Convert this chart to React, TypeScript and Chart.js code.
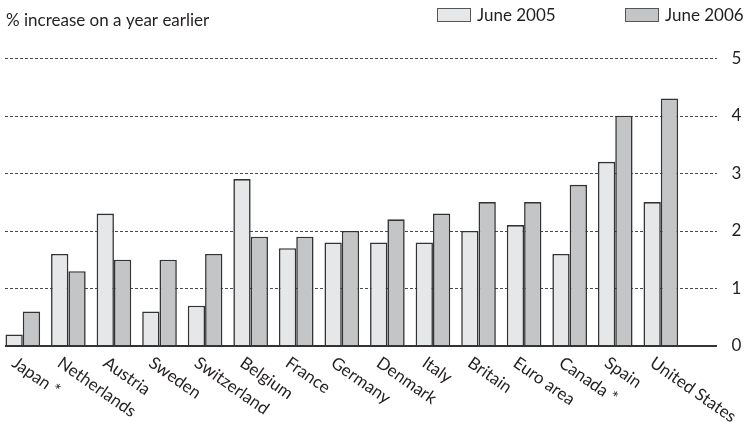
import React, { useEffect, useRef } from "react";
import { Chart, registerables } from "chart.js";

Chart.register(...registerables);

const categories = [
  "Japan *",
  "Netherlands",
  "Austria",
  "Sweden",
  "Switzerland",
  "Belgium",
  "France",
  "Germany",
  "Denmark",
  "Italy",
  "Britain",
  "Euro area",
  "Canada *",
  "Spain",
  "United States",
];
const june2005 = [0.2, 1.6, 2.3, 0.6, 0.7, 2.9, 1.7, 1.8, 1.8, 1.8, 2.0, 2.1, 1.6, 3.2, 2.5];
const june2006 = [0.6, 1.3, 1.5, 1.5, 1.6, 1.9, 1.9, 2.0, 2.2, 2.3, 2.5, 2.5, 2.8, 4.0, 4.3];
const yTicks = [0, 1, 2, 3, 4, 5];
const seriesLabels = ["June 2005", "June 2006"];
const titleText = "% increase on a year earlier";

const FONT = "Lato, 'Open Sans', sans-serif";
const TEXT_COLOR = "#231f20";
const COLOR_2005 = "#e6e7e8";
const COLOR_2006 = "#c4c5c7";
const BORDER = "#333333";

const decor = {
  id: "decor",
  beforeDatasetsDraw(chart: any) {
    const { ctx } = chart;
    const y = chart.scales.y;
    ctx.save();
    ctx.strokeStyle = "#4a4a4a";
    ctx.lineWidth = 1;
    ctx.setLineDash([3, 2]);
    yTicks.forEach((v) => {
      if (v === 0) return;
      const py = Math.round(y.getPixelForValue(v)) + 0.5;
      ctx.beginPath();
      ctx.moveTo(5, py);
      ctx.lineTo(717, py);
      ctx.stroke();
    });
    ctx.restore();
  },
  afterDatasetsDraw(chart: any) {
    const { ctx } = chart;
    const x = chart.scales.x;
    const y = chart.scales.y;
    ctx.save();
    // baseline
    const y0 = Math.round(y.getPixelForValue(0));
    ctx.strokeStyle = "#333";
    ctx.lineWidth = 2;
    ctx.beginPath();
    ctx.moveTo(5, y0);
    ctx.lineTo(717, y0);
    ctx.stroke();

    // rotated category labels
    ctx.fillStyle = TEXT_COLOR;
    ctx.font = `17px ${FONT}`;
    ctx.textAlign = "left";
    ctx.textBaseline = "top";
    categories.forEach((c, i) => {
      const cx = x.getPixelForValue(i);
      ctx.save();
      ctx.translate(cx - 4, y0 + 8);
      ctx.rotate((35 * Math.PI) / 180);
      ctx.fillText(c, 0, 0);
      ctx.restore();
    });

    // title
    ctx.textBaseline = "alphabetic";
    ctx.fillText(titleText, 6, 26);

    // legend
    const legendX = [437, 625];
    const fills = [COLOR_2005, COLOR_2006];
    seriesLabels.forEach((lab, i) => {
      ctx.fillStyle = fills[i];
      ctx.fillRect(legendX[i], 8.5, 33, 13);
      ctx.strokeStyle = "#555";
      ctx.lineWidth = 1;
      ctx.strokeRect(legendX[i] + 0.5, 8.5, 33, 13);
      ctx.fillStyle = TEXT_COLOR;
      ctx.fillText(lab, legendX[i] + 40, 21);
    });
    ctx.restore();
  },
};

export default function App() {
  const ref = useRef<HTMLCanvasElement | null>(null);
  useEffect(() => {
    if (!ref.current) return;
    const chart = new Chart(ref.current, {
      type: "bar",
      data: {
        labels: categories,
        datasets: [
          {
            label: seriesLabels[0],
            data: june2005,
            backgroundColor: COLOR_2005,
            borderColor: BORDER,
            borderWidth: 1.6,
            categoryPercentage: 0.76,
            barPercentage: 1,
          },
          {
            label: seriesLabels[1],
            data: june2006,
            backgroundColor: COLOR_2006,
            borderColor: BORDER,
            borderWidth: 1.6,
            categoryPercentage: 0.76,
            barPercentage: 1,
          },
        ],
      },
      options: {
        responsive: false,
        animation: false,
        layout: { padding: { left: 0, right: 0, top: 58, bottom: 76 } },
        plugins: {
          legend: { display: false },
          tooltip: { enabled: false },
          title: { display: false },
        },
        scales: {
          x: {
            display: false,
            offset: true,
          },
          y: {
            position: "right",
            min: 0,
            max: 5,
            afterFit: (s: any) => {
              s.width = 63.4;
            },
            afterBuildTicks: (s: any) => {
              s.ticks = yTicks.map((v) => ({ value: v }));
            },
            grid: { display: false, drawTicks: false },
            border: { display: false },
            ticks: {
              font: { family: FONT, size: 17 },
              color: TEXT_COLOR,
              padding: 48,
            },
          },
        },
      },
      plugins: [decor],
    });
    return () => chart.destroy();
  }, []);
  return (
    <div style={{ position: "fixed", left: 0, top: 0, width: 747, height: 422, background: "#fff" }}>
      <canvas ref={ref} width={747} height={422} />
    </div>
  );
}
